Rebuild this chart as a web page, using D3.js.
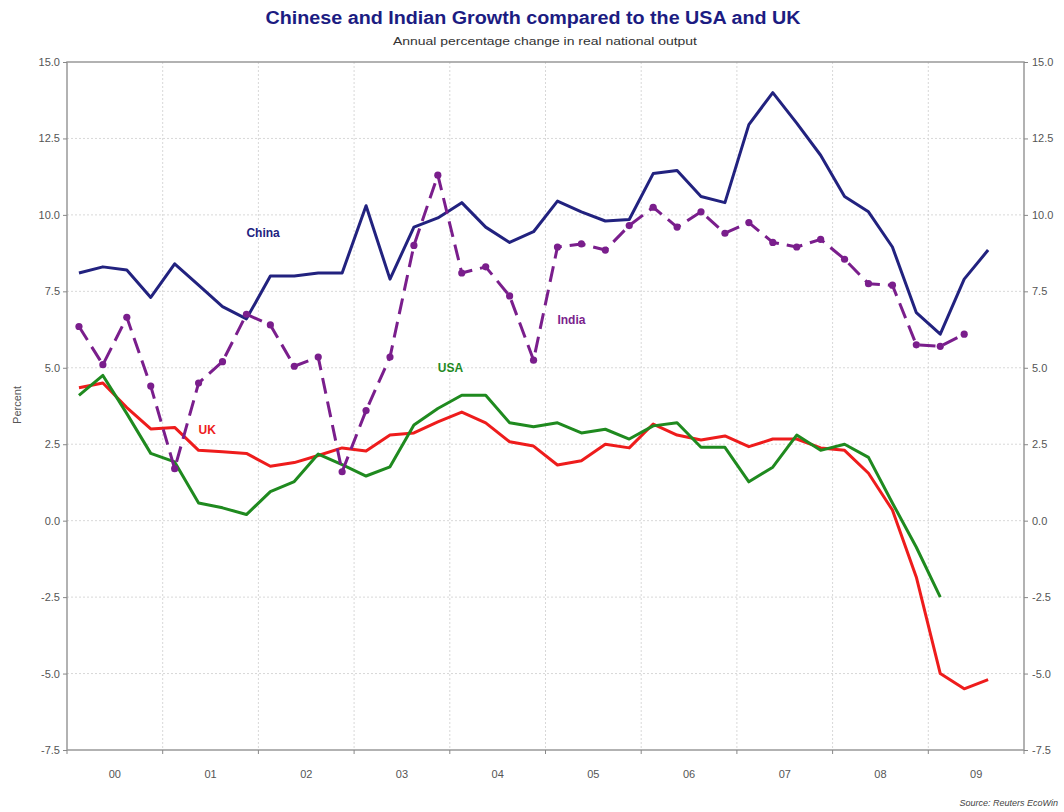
<!DOCTYPE html>
<html>
<head>
<meta charset="utf-8">
<script src="https://cdn.jsdelivr.net/npm/d3@7"></script>
<style>
  html, body { margin: 0; padding: 0; background: #fff; }
  svg { display: block; font-family: "Liberation Sans", Arial, sans-serif; }
</style>
</head>
<body>
<svg id="chart" width="1064" height="812"></svg>
<script>
// ---- Data (quarterly, annual % change in real national output) ----
const quarters = [
  "2000Q1","2000Q2","2000Q3","2000Q4","2001Q1","2001Q2","2001Q3","2001Q4",
  "2002Q1","2002Q2","2002Q3","2002Q4","2003Q1","2003Q2","2003Q3","2003Q4",
  "2004Q1","2004Q2","2004Q3","2004Q4","2005Q1","2005Q2","2005Q3","2005Q4",
  "2006Q1","2006Q2","2006Q3","2006Q4","2007Q1","2007Q2","2007Q3","2007Q4",
  "2008Q1","2008Q2","2008Q3","2008Q4","2009Q1","2009Q2","2009Q3","2009Q4"
];
const yearLabels = ["00","01","02","03","04","05","06","07","08","09"];
const yTicks = [-7.5, -5.0, -2.5, 0.0, 2.5, 5.0, 7.5, 10.0, 12.5, 15.0];

const china = [8.1, 8.3, 8.2, 7.3, 8.4, 7.7, 7.0, 6.6, 8.0, 8.0, 8.1, 8.1, 10.3, 7.9, 9.6, 9.9,
  10.4, 9.6, 9.1, 9.45, 10.45, 10.1, 9.8, 9.85, 11.35, 11.45, 10.6, 10.4, 12.95, 14.0, 13.0, 11.95,
  10.6, 10.1, 8.95, 6.8, 6.1, 7.9, 8.85];
const india = [6.35, 5.1, 6.65, 4.4, 1.7, 4.5, 5.2, 6.75, 6.4, 5.05, 5.35, 1.6, 3.6, 5.35, 9.0, 11.3,
  8.1, 8.3, 7.35, 5.25, 8.95, 9.05, 8.85, 9.65, 10.25, 9.6, 10.1, 9.4, 9.75, 9.1, 8.95, 9.2,
  8.55, 7.75, 7.7, 5.75, 5.7, 6.1];
const uk = [4.35, 4.5, 3.7, 3.0, 3.05, 2.3, 2.25, 2.2, 1.78, 1.9, 2.13, 2.38, 2.28, 2.8, 2.87, 3.23,
  3.55, 3.2, 2.58, 2.44, 1.82, 1.96, 2.5, 2.38, 3.16, 2.8, 2.64, 2.77, 2.42, 2.67, 2.67, 2.38,
  2.3, 1.55, 0.35, -1.85, -5.0, -5.5, -5.2];
const usa = [4.1, 4.75, 3.5, 2.2, 1.92, 0.58, 0.42, 0.2, 0.95, 1.28, 2.18, 1.83, 1.46, 1.76, 3.13, 3.67,
  4.1, 4.1, 3.2, 3.07, 3.2, 2.87, 2.99, 2.67, 3.1, 3.2, 2.4, 2.4, 1.27, 1.75, 2.8, 2.3,
  2.5, 2.07, 0.58, -0.87, -2.5];

const seriesLabels = [
  { name: "China", color: "#22227f", q: "2001Q4", v: 9.37 },
  { name: "India", color: "#7a1e8c", q: "2005Q1", v: 6.53 },
  { name: "USA",   color: "#1f8a1f", q: "2003Q4", v: 4.96 },
  { name: "UK",    color: "#ee1c1c", q: "2001Q2", v: 2.93 }
];

// ---- Layout ----
const svg = d3.select("#chart");
const L = 67, R = 1024, T = 62, B = 750;

const x = d3.scaleBand().domain(quarters).range([L, R]).paddingInner(0).paddingOuter(0);
const xc = q => x(q) + x.bandwidth() / 2;
const y = d3.scaleLinear().domain([-7.5, 15]).range([B, T]);
const fmt = v => d3.format(".1f")(v).replace("\u2212", "-");

// Title
svg.append("text").attr("x", 533).attr("y", 24).attr("text-anchor", "middle")
  .attr("font-size", 18).attr("font-weight", "bold").attr("fill", "#1c1c82")
  .attr("textLength", 535).attr("lengthAdjust", "spacingAndGlyphs")
  .text("Chinese and Indian Growth compared to the USA and UK");
svg.append("text").attr("x", 545).attr("y", 45).attr("text-anchor", "middle")
  .attr("font-size", 11).attr("fill", "#333")
  .attr("textLength", 304).attr("lengthAdjust", "spacingAndGlyphs")
  .text("Annual percentage change in real national output");

// Grid
const grid = svg.append("g");
grid.selectAll("line.h").data(yTicks.filter(t => t > -7.5 && t < 15)).join("line")
  .attr("x1", L).attr("x2", R).attr("y1", d => y(d)).attr("y2", d => y(d))
  .attr("stroke", "#d8d8d8").attr("stroke-dasharray", "2,2").attr("stroke-width", 1);
const yearStarts = quarters.filter(q => q.endsWith("Q1"));
grid.selectAll("line.v").data(yearStarts.slice(1)).join("line")
  .attr("x1", d => x(d)).attr("x2", d => x(d)).attr("y1", T).attr("y2", B)
  .attr("stroke", "#d8d8d8").attr("stroke-dasharray", "2,2").attr("stroke-width", 1);

// Frame
svg.append("rect").attr("x", L).attr("y", T).attr("width", R - L).attr("height", B - T)
  .attr("fill", "none").attr("stroke", "#999").attr("stroke-width", 1.5);

// Left / right axes
const yAxisL = d3.axisLeft(y).tickValues(yTicks).tickFormat(fmt).tickSize(4).tickPadding(3);
const gL = svg.append("g").attr("transform", `translate(${L},0)`).call(yAxisL);
const yAxisR = d3.axisRight(y).tickValues(yTicks).tickFormat(fmt).tickSize(4).tickPadding(4);
const gR = svg.append("g").attr("transform", `translate(${R},0)`).call(yAxisR);
[gL, gR].forEach(g => {
  g.select(".domain").remove();
  g.selectAll(".tick line").attr("stroke", "#888");
  g.selectAll(".tick text").attr("fill", "#555").attr("font-size", 11)
    .attr("font-family", "'Liberation Sans', Arial, sans-serif");
});

// Bottom axis: ticks at year boundaries, labels centered in year
const gB = svg.append("g");
gB.selectAll("line").data(yearStarts).join("line")
  .attr("x1", d => x(d)).attr("x2", d => x(d)).attr("y1", B).attr("y2", B + 4)
  .attr("stroke", "#888");
gB.append("line").attr("x1", R).attr("x2", R).attr("y1", B).attr("y2", B + 4).attr("stroke", "#888");
gB.selectAll("text").data(yearStarts).join("text")
  .attr("x", d => x(d) + x.bandwidth() * 2)
  .attr("y", 778).attr("text-anchor", "middle").attr("font-size", 11).attr("fill", "#555")
  .text((d, i) => yearLabels[i]);

// Y title
svg.append("text").attr("transform", "translate(21,405) rotate(-90)")
  .attr("text-anchor", "middle").attr("font-size", 11).attr("fill", "#555").text("Percent");

// Lines
const line = d3.line().x(d => xc(d.q)).y(d => y(d.v));
const toPts = arr => arr.map((v, i) => ({ q: quarters[i], v }));

function drawSeries(arr, color, dash) {
  svg.append("path").datum(toPts(arr)).attr("d", line)
    .attr("fill", "none").attr("stroke", color).attr("stroke-width", 3)
    .attr("stroke-linejoin", "round").attr("stroke-dasharray", dash || null);
}
drawSeries(china, "#22227f");
drawSeries(uk, "#ee1c1c");
drawSeries(usa, "#1f8a1f");
drawSeries(india, "#7a1e8c", "16,8");
svg.append("g").selectAll("circle").data(toPts(india)).join("circle")
  .attr("cx", d => xc(d.q)).attr("cy", d => y(d.v)).attr("r", 3.6).attr("fill", "#7a1e8c");

// Series labels
svg.append("g").selectAll("text").data(seriesLabels).join("text")
  .attr("x", d => xc(d.q)).attr("y", d => y(d.v)).attr("text-anchor", "start")
  .attr("dominant-baseline", "middle")
  .attr("font-size", 12).attr("font-weight", "bold").attr("fill", d => d.color)
  .text(d => d.name);

// Source
svg.append("text").attr("x", 1058).attr("y", 806).attr("text-anchor", "end")
  .attr("font-size", 9).attr("font-style", "italic").attr("fill", "#444")
  .text("Source: Reuters EcoWin");
</script>
</body>
</html>
